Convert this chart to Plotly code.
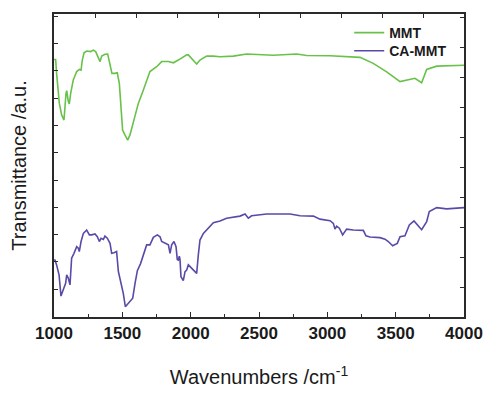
import plotly.graph_objects as go

# ---- data ----
mmt_wn = [1000, 1012, 1019, 1039, 1056, 1073, 1088, 1093, 1105, 1112, 1122, 1141, 1166, 1185, 1198,
          1207, 1220, 1239, 1268, 1288, 1305, 1324, 1337, 1349, 1373, 1393, 1410, 1424, 1446, 1463,
          1478, 1488, 1502, 1519, 1539, 1556, 1585, 1617, 1654, 1702, 1751, 1788, 1837, 1873, 1910,
          1971, 1983, 2019, 2044, 2068, 2117, 2166, 2215, 2312, 2410, 2605, 2776, 2849, 3020, 3239,
          3336, 3434, 3532, 3641, 3690, 3727, 3800, 4000]
mmt_t = [85.0, 85.0, 80.4, 70.5, 66.7, 65.0, 73.8, 74.7, 71.1, 70.3, 73.8, 78.2, 81.0, 81.7, 81.5,
         84.8, 87.2, 87.8, 87.6, 88.1, 87.6, 85.4, 84.3, 86.1, 86.7, 86.8, 83.5, 80.4, 80.4, 80.6,
         77.1, 71.6, 61.7, 60.1, 58.4, 60.1, 65.0, 70.5, 74.9, 81.0, 82.6, 84.3, 84.3, 83.9, 84.8,
         86.5, 86.5, 84.8, 83.5, 84.8, 86.1, 86.1, 85.9, 86.1, 86.8, 86.4, 86.8, 86.3, 86.2, 85.7,
         83.7, 80.9, 77.7, 78.8, 77.3, 81.7, 82.8, 83.1]

camt_wn = [1000, 1007, 1019, 1037, 1051, 1068, 1085, 1093, 1105, 1117, 1129, 1146, 1166, 1178, 1185,
           1198, 1215, 1239, 1259, 1276, 1300, 1317, 1332, 1344, 1361, 1373, 1390, 1410, 1422, 1439,
           1458, 1471, 1488, 1507, 1522, 1544, 1576, 1593, 1610, 1634, 1654, 1678, 1702, 1727, 1756,
           1776, 1788, 1812, 1837, 1849, 1861, 1878, 1893, 1902, 1910, 1917, 1922, 1929, 1946, 1959,
           1971, 1983, 2007, 2032, 2044, 2056, 2068, 2093, 2129, 2166, 2215, 2263, 2361, 2398, 2422,
           2446, 2556, 2727, 2800, 2898, 2946, 3020, 3044, 3056, 3068, 3088, 3112, 3141, 3190, 3263,
           3283, 3312, 3385, 3422, 3446, 3478, 3512, 3532, 3568, 3600, 3634, 3666, 3690, 3727, 3746,
           3800, 3873, 4000]
camt_t = [18.8, 18.8, 17.2, 13.9, 6.9, 8.9, 11.1, 13.9, 12.8, 10.6, 19.4, 21.0, 23.2, 22.7, 21.6,
          24.9, 27.6, 28.7, 27.1, 27.1, 27.4, 26.5, 24.9, 26.0, 25.6, 26.7, 26.0, 24.3, 21.0, 21.2,
          21.6, 15.0, 11.7, 7.8, 3.4, 4.5, 6.2, 11.1, 15.3, 17.7, 20.5, 23.8, 23.8, 26.3, 27.1,
          26.5, 24.9, 24.3, 23.8, 21.0, 23.8, 24.9, 23.2, 19.0, 18.8, 20.1, 19.0, 13.3, 12.0, 15.0,
          15.5, 17.2, 16.1, 15.0, 14.4, 20.5, 25.4, 27.6, 29.3, 31.1, 31.7, 32.6, 33.3, 34.0, 32.6,
          33.4, 34.0, 34.0, 33.4, 33.3, 32.3, 31.8, 30.9, 29.0, 30.0, 29.3, 27.1, 29.0, 28.7, 28.6,
          26.8, 26.4, 26.2, 25.7, 24.9, 23.5, 24.3, 26.5, 26.8, 30.4, 31.7, 30.1, 28.8, 31.5, 34.8,
          36.1, 35.7, 36.1]

series_names = ["MMT", "CA-MMT"]
x_ticks = [1000, 1500, 2000, 2500, 3000, 3500, 4000]

GREEN = "#68c24a"
PURPLE = "#5a4aa8"
AX = "#2a2a2a"
FONT = "Liberation Sans, Arial, sans-serif"
LEG_FONT = dict(size=14, family=FONT, weight="bold", color="#1a1a1a")

fig = go.Figure()
fig.add_trace(go.Scatter(x=mmt_wn, y=mmt_t, mode="lines", name=series_names[0],
                         line=dict(color=GREEN, width=1.6), legend="legend"))
fig.add_trace(go.Scatter(x=camt_wn, y=camt_t, mode="lines", name=series_names[1],
                         line=dict(color=PURPLE, width=1.6), legend="legend2"))
# empty helper trace so the top / right frame axes are drawn
fig.add_trace(go.Scatter(x=[], y=[], xaxis="x2", yaxis="y2", showlegend=False, hoverinfo="skip"))

fig.update_layout(
    width=500, height=398,
    margin=dict(l=46, r=44, t=6, b=89, autoexpand=False),
    paper_bgcolor="white", plot_bgcolor="white",
    font=dict(family=FONT, color="#1a1a1a"),
    showlegend=True,
    legend=dict(x=0.72, y=0.99, xanchor="left", yanchor="top",
                bgcolor="rgba(0,0,0,0)", borderwidth=0, font=LEG_FONT),
    legend2=dict(x=0.72, y=0.93, xanchor="left", yanchor="top",
                 bgcolor="rgba(0,0,0,0)", borderwidth=0, font=LEG_FONT),
    xaxis=dict(range=[1000, 4000], tickvals=x_ticks, ticktext=[str(v) for v in x_ticks],
               ticks="inside", ticklen=5, tickwidth=1.2, tickcolor=AX,
               minor=dict(dtick=250, tick0=1000, ticks="inside", ticklen=3, tickwidth=1.2, tickcolor=AX),
               showline=True, linecolor=AX, linewidth=1.5, mirror=False,
               showgrid=False, zeroline=False,
               tickfont=dict(size=17, family=FONT, weight="bold", color="#1a1a1a"),
               title=dict(text="Wavenumbers /cm<sup>-1</sup>", font=dict(size=20, family=FONT, color="#1a1a1a"),
                          standoff=28)),
    xaxis2=dict(range=[1000, 4000], overlaying="x", side="top", tick0=1000, dtick=300,
                ticks="inside", ticklen=4, tickwidth=1.2, tickcolor=AX, showticklabels=False,
                showline=True, linecolor=AX, linewidth=1.5, showgrid=False, zeroline=False),
    yaxis=dict(range=[0, 100], tick0=9.2, dtick=9.0, ticks="inside", ticklen=4, tickwidth=1.2,
               tickcolor=AX, showticklabels=False, showline=True, linecolor=AX, linewidth=1.5,
               showgrid=False, zeroline=False,
               title=dict(text="Transmittance /a.u.", font=dict(size=20, family=FONT, color="#1a1a1a"),
                          standoff=20)),
    yaxis2=dict(range=[0, 100], overlaying="y", side="right", tick0=9.9, dtick=9.9,
                ticks="inside", ticklen=4, tickwidth=1.2, tickcolor=AX, showticklabels=False,
                showline=True, linecolor=AX, linewidth=1.5, showgrid=False, zeroline=False),
)

fig.write_html("out.html")
